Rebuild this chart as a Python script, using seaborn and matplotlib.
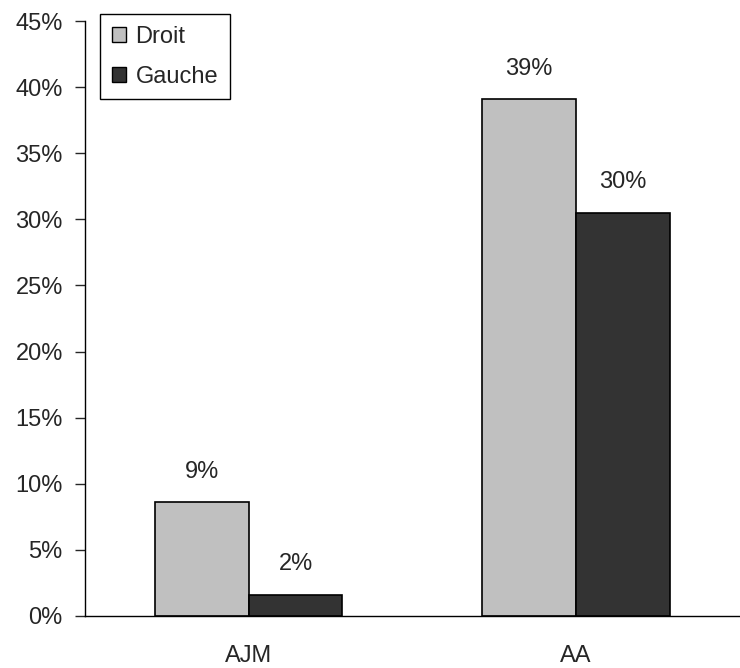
import pandas as pd
import seaborn as sns
import matplotlib.pyplot as plt
from matplotlib.patches import Patch
from matplotlib.ticker import FixedLocator

categories = ['AJM', 'AA']
droit = [8.6, 39.1]
gauche = [1.6, 30.5]
droit_labels = ['9%', '39%']
gauche_labels = ['2%', '30%']
y_ticks = [0, 5, 10, 15, 20, 25, 30, 35, 40, 45]

df = pd.DataFrame({
    'Cat': categories * 2,
    'Value': droit + gauche,
    'Side': ['Droit'] * 2 + ['Gauche'] * 2,
})

FS = 17

sns.set_style('white')
plt.rcParams['font.family'] = ['Liberation Sans', 'DejaVu Sans']
plt.rcParams['font.size'] = FS

fig = plt.figure(figsize=(7.4, 6.68), dpi=100)
ax = fig.add_axes([85 / 740, 1 - 616 / 668, 1 - 85 / 740 - 0.001, (616 - 21) / 668])

colors = {'Droit': '#c0c0c0', 'Gauche': '#333333'}
sns.barplot(data=df, x='Cat', y='Value', hue='Side', palette=colors,
            width=0.574, gap=0, edgecolor='black', linewidth=1.2,
            legend=False, ax=ax)

# value labels above bars
for container, labels in zip(ax.containers, [droit_labels, gauche_labels]):
    for bar, lab in zip(container, labels):
        ax.annotate(lab, (bar.get_x() + bar.get_width() / 2, bar.get_height()),
                    xytext=(0, 14), textcoords='offset points',
                    ha='center', va='bottom', fontsize=FS)

ax.set_xlim(-0.5, 1.5)
ax.set_ylim(0, 45)
ax.set_yticks(y_ticks)
ax.set_yticklabels([f'{t}%' for t in y_ticks])
ax.set_xlabel('')
ax.set_ylabel('')

# ticks between categories on x
ax.xaxis.set_minor_locator(FixedLocator([-0.5, 0.5, 1.5]))
ax.tick_params(axis='x', which='major', length=0, pad=21, labelsize=FS)
ax.tick_params(axis='x', which='minor', length=7, width=1, direction='out')
ax.tick_params(axis='y', length=7, width=1, direction='out', pad=9, left=True, labelsize=FS)

for s in ['top', 'right']:
    ax.spines[s].set_visible(False)
for s in ['left', 'bottom']:
    ax.spines[s].set_color('black')
    ax.spines[s].set_linewidth(1)

handles = [Patch(facecolor=colors[k], edgecolor='black', linewidth=1) for k in ['Droit', 'Gauche']]
leg = fig.legend(handles, ['Droit', 'Gauche'], loc='upper left',
                 bbox_to_anchor=(100 / 740, 1 - 14 / 668), borderaxespad=0,
                 fancybox=False, framealpha=1, edgecolor='black',
                 handlelength=0.6, handleheight=0.6, handletextpad=0.4,
                 labelspacing=0.75, borderpad=0.5, fontsize=FS)
leg.get_frame().set_linewidth(1)

fig.savefig('out.png', dpi=100)
